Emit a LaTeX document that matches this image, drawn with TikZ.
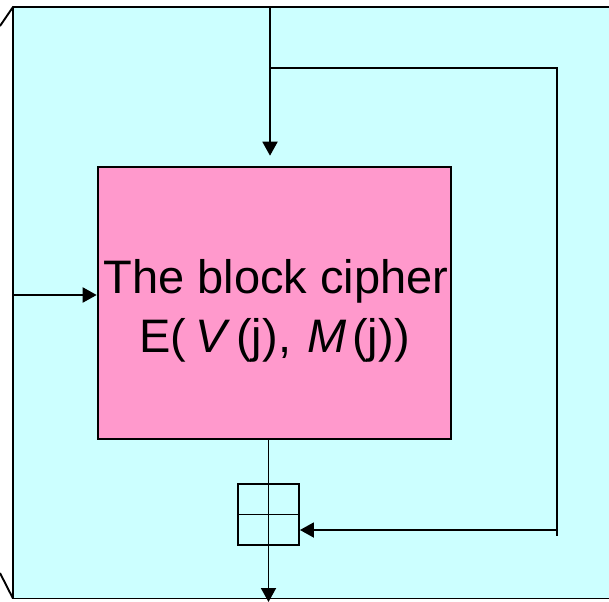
\documentclass[tikz,border=0pt]{standalone}
\usepackage{fontspec}
\setmainfont{Liberation Sans}
\usetikzlibrary{arrows.meta}
\definecolor{bgcyan}{HTML}{CCFFFF}
\definecolor{boxpink}{HTML}{FF99CC}
\begin{document}
\begin{tikzpicture}[x=1pt,y=-1pt,
  line/.style={draw=black, line width=1.9pt},
  arr/.style={line, -{Triangle[length=14pt,width=15pt]}},
  label/.style={font=\fontsize{47}{59}\selectfont, inner sep=0pt, anchor=base}]
\useasboundingbox (0,0) rectangle (609,601);
% background frame
\fill[bgcyan] (13,7) rectangle (620,598);
\draw[line] (0,26) -- (13,7) -- (620,7);
\draw[line] (13,7) -- (13,598.5) -- (620,598.5);
\draw[line] (0,573) -- (13,598.5);
% cipher block
\node[draw=black, line width=2.6pt, fill=boxpink, minimum width=353pt, minimum height=272pt, inner sep=0pt] (cipher) at (274.5,303) {};
\node[label] (t1) at (276,293) {The block cipher};
\node[label] (t2) at (274.5,352) {E(\hspace{9pt}\textit{V}\hspace{6pt}(j), \hspace{3pt}\textit{M}\hspace{6pt}(j))};
% xor
\node[draw=black, line width=1.9pt, minimum size=61pt, inner sep=0pt] (xor) at (268.5,514.5) {};
\draw[line] (xor.north) -- (xor.south);
\draw[line] (xor.west) -- (xor.east);
% connectors
\coordinate (topin) at (270,7);
\coordinate (branch) at (270,68);
\coordinate (rc) at (557,68);
\coordinate (rend) at (557,536);
\coordinate (rb) at (557,530);
\coordinate (leftin) at (13,295);
\coordinate (out) at (268.5,602);
\draw[arr, shorten >=10pt] (topin) -- (topin |- cipher.north);
\draw[line] (branch) -- (rc) -- (rend);
\draw[arr] (rb) -- (xor.east |- rb);
\draw[arr] (leftin) -- (leftin -| cipher.west);
\draw[line] (xor.north |- cipher.south) -- (xor.north);
\draw[arr] (xor.south) -- (out);
\end{tikzpicture}
\end{document}
